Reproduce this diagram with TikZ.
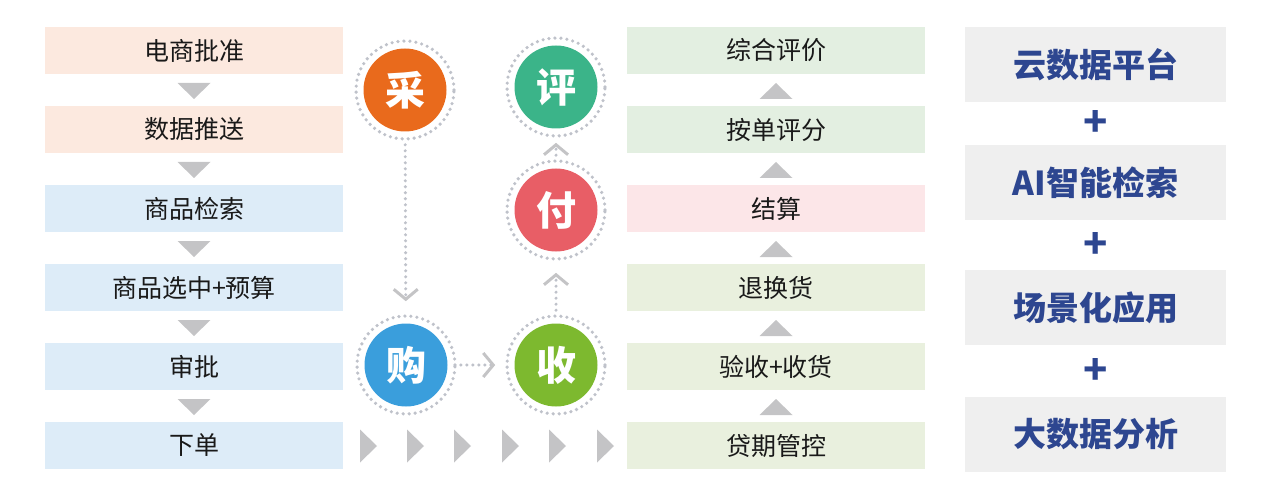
\documentclass[tikz,border=0pt]{standalone}
\usepackage{fontspec}
\newfontfamily\cjk{Noto Sans CJK SC}
\usetikzlibrary{arrows.meta}
\definecolor{peach}{HTML}{FCE9DF}
\definecolor{lblue}{HTML}{DDECF8}
\definecolor{lgreen}{HTML}{E3EFE1}
\definecolor{lolive}{HTML}{E9F0DE}
\definecolor{lpink}{HTML}{FCE6E8}
\definecolor{lgray}{HTML}{EFEFEF}
\definecolor{navy}{HTML}{2D4690}
\definecolor{tri}{HTML}{C4C4C6}
\definecolor{ring}{HTML}{BFC2CA}
\definecolor{cOrange}{HTML}{E96A1C}
\definecolor{cTeal}{HTML}{3BB489}
\definecolor{cRed}{HTML}{E85E66}
\definecolor{cBlue}{HTML}{3A9EDC}
\definecolor{cGreen}{HTML}{7DB92F}
\begin{document}
\begin{tikzpicture}[x=1pt,y=-1pt,
  flowbox/.style={minimum width=298pt,minimum height=47pt,inner sep=0pt,
    font=\cjk\fontsize{25}{28}\selectfont,text=black!90},
  sidebox/.style={fill=lgray,minimum width=261pt,minimum height=75pt,inner sep=0pt,
    font=\cjk\bfseries\fontsize{33}{36}\selectfont,text=navy},
  plussign/.style={font=\cjk\bfseries\fontsize{40}{40}\selectfont,text=navy,inner sep=0pt},
  stagering/.style={circle,minimum size=98pt,inner sep=0pt,draw=ring,line width=3.6pt,
    dash pattern=on 0pt off 6pt,line cap=round},
  stagedisc/.style={circle,minimum size=83pt,inner sep=0pt,text=white,
    font=\cjk\bfseries\fontsize{40}{40}\selectfont},
  dotlink/.style={draw=ring,line width=3.4pt,dash pattern=on 0pt off 6pt,line cap=round,
    -{Straight Barb[length=10pt,width=24pt,line width=3pt,color=tri,line cap=butt]}},
]
\useasboundingbox (0,0) rectangle (1271,497);
% left column
\node[flowbox,fill=peach] (l1) at (194,50.5) {电商批准};
\node[flowbox,fill=peach] (l2) at (194,129.5) {数据推送};
\node[flowbox,fill=lblue] (l3) at (194,208.5) {商品检索};
\node[flowbox,fill=lblue] (l4) at (194,287.5) {商品选中+预算};
\node[flowbox,fill=lblue] (l5) at (194,366.5) {审批};
\node[flowbox,fill=lblue] (l6) at (194,445.5) {下单};
\foreach \y in {83,162,241,320,399}
  \fill[tri] (177.5,\y) -- (210.5,\y) -- (194,\y+16) -- cycle;
% right column
\node[flowbox,fill=lgreen] (r1) at (776,50.5) {综合评价};
\node[flowbox,fill=lgreen] (r2) at (776,129.5) {按单评分};
\node[flowbox,fill=lpink] (r3) at (776,208.5) {结算};
\node[flowbox,fill=lolive] (r4) at (776,287.5) {退换货};
\node[flowbox,fill=lolive] (r5) at (776,366.5) {验收+收货};
\node[flowbox,fill=lolive] (r6) at (776,445.5) {贷期管控};
\foreach \y in {83,162,241,320,399}
  \fill[tri] (759.5,\y+16) -- (792.5,\y+16) -- (776,\y) -- cycle;
% row of right-pointing triangles
\foreach \x in {360,407,454,502,549,597}
  \fill[tri] (\x,429.5) -- (\x+17,446) -- (\x,462.5) -- cycle;
% stage circles
\foreach \n/\x/\y/\c/\t in {cai/405/90/cOrange/采, ping/556/87/cTeal/评, fu/556/210/cRed/付, gou/406/365/cBlue/购, shou/556/365/cGreen/收}{
  \node[stagering] (\n) at (\x,\y) {};
  \node[stagedisc,fill=\c] at (\x,\y) {\t};
}
\draw[dotlink,shorten <=4pt,shorten >=13pt] (cai) -- (gou);
\draw[dotlink,shorten <=4pt,shorten >=10pt] (gou) -- (shou);
\draw[dotlink,shorten <=4pt,shorten >=12pt] (shou) -- (fu);
\draw[dotlink,shorten <=4pt,shorten >=5pt] (fu) -- (ping);
% side boxes
\node[sidebox] (s1) at (1095.5,64.5) {云数据平台};
\node[sidebox] (s2) at (1095.5,182.5) {AI智能检索};
\node[sidebox] (s3) at (1095.5,307.5) {场景化应用};
\node[sidebox] (s4) at (1095.5,434.5) {大数据分析};
\node[plussign] (p1) at (1096,124) {+};
\node[plussign] (p2) at (1096,245) {+};
\node[plussign] (p3) at (1096,371) {+};
\end{tikzpicture}
\end{document}
